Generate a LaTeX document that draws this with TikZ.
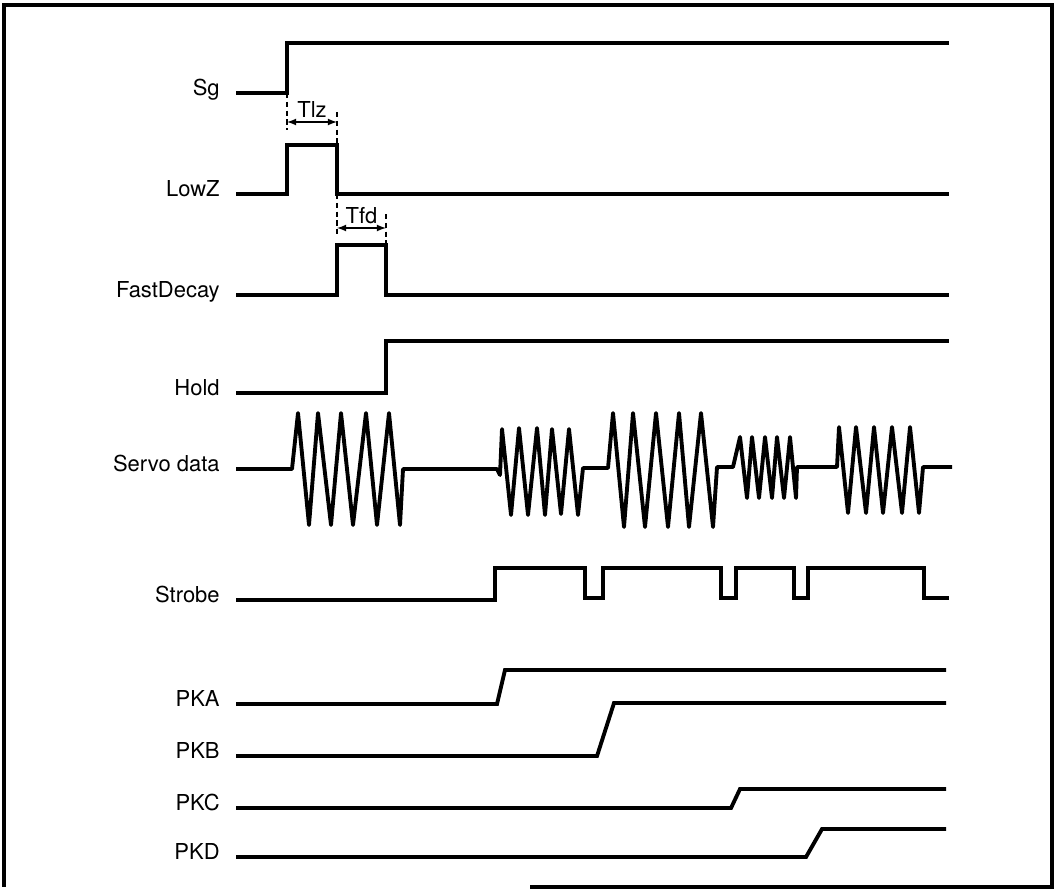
\documentclass[tikz,border=0pt]{standalone}
\usepackage{fontspec}
\setmainfont{TeX Gyre Heros}
\usepackage{tikz}
\usetikzlibrary{arrows}

\begin{document}
\begin{tikzpicture}[x=0.2mm,y=-0.2mm,
        sig/.style={line width=2.2pt,line join=miter},
        wave/.style={line width=2.2pt,line join=round},
        dim/.style={line width=0.8pt,latex-latex},
        ext/.style={line width=0.8pt,dash pattern=on 3pt off 2pt},
        lbl/.style={anchor=base east,inner sep=0pt,font=\fontsize{12.5}{15}\selectfont},
        tlbl/.style={above,inner sep=2pt,font=\fontsize{12.5}{15}\selectfont}]
            \useasboundingbox (0,0) rectangle (1057,890);
            % Frame:
            \draw[line width=2pt] (530,887) -- (1052,887) -- (1052,5) -- (4,5) -- (4,887);
            % signal names
            \foreach \nm/\txt/\y in {sg/Sg/95, lowz/LowZ/196, fastdecay/FastDecay/297, hold/Hold/395,
                    servo/Servo data/471, strobe/Strobe/602, pka/PKA/706, pkb/PKB/758, pkc/PKC/810, pkd/PKD/859}
                \node[lbl] (\nm) at (220,\y) {\txt};

            % Sg, LowZ, FastDecay, Hold
            \draw[sig] (236,93) -- (287,93) -- (287,43) -- (949,43);
            \draw[sig] (236,194) -- (287,194) -- (287,145) -- (337,145) -- (337,194) -- (949,194);
            \draw[sig] (236,295) -- (337,295) -- (337,245) -- (386,245) -- (386,295) -- (949,295);
            \draw[sig] (236,393) -- (386,393) -- (386,341) -- (949,341);

            %timing marks
            \coordinate (tlzA) at (287,122);
            \coordinate (tlzB) at (337,122);
            \coordinate (tfdA) at (337,228);
            \coordinate (tfdB) at (386,228);
            \draw[ext] (287,93) -- (287,130);
            \draw[ext] (337,112) -- (337,145);
            \draw[dim] (tlzA) -- node[tlbl] (tlz) {Tlz} (tlzB);
            \draw[ext] (337,194) -- (337,236);
            \draw[ext] (386,214) -- (386,245);
            \draw[dim] (tfdA) -- node[tlbl] (tfd) {Tfd} (tfdB);

            % Servo data
            \draw[wave] (236,469) -- (292,469) -- (298,413) -- (309,525) -- (318,413) -- (331,525) -- (341,413)
                -- (353,525) -- (366,413) -- (377,525) -- (389,413) -- (400,525) -- (403,469) -- (497,469)
                -- (500,475) -- (502,429) -- (511,515) -- (519,428) -- (528,515) -- (537,428) -- (545,515)
                -- (552,429) -- (561,514) -- (569,429) -- (578,515) -- (583,468) -- (608,468)
                -- (613,413) -- (624,527) -- (633,413) -- (645,527) -- (656,413) -- (668,527) -- (679,413)
                -- (689,527) -- (701,413) -- (713,527) -- (717,467) -- (733,467)
                -- (740,437) -- (747,498) -- (752,437) -- (759,498) -- (765,437) -- (772,498) -- (777,437)
                -- (784,498) -- (790,437) -- (796,498) -- (797,467) -- (837,467)
                -- (839,427) -- (848,513) -- (856,427) -- (866,513) -- (874,427) -- (883,513) -- (892,427)
                -- (902,513) -- (910,427) -- (919,513) -- (923,467) -- (952,467);

            % Strobe
            \draw[sig] (236,600) -- (495,600) -- (495,568) -- (585,568) -- (585,598) -- (603,598) -- (603,568)
                -- (721,568) -- (721,598) -- (736,598) -- (736,568) -- (794,568) -- (794,598) -- (808,598)
                -- (808,568) -- (924,568) -- (924,598) -- (949,598);

            % PKA..PKD
            \draw[sig] (236,704) -- (497,704) -- (505,670) -- (946,670);
            \draw[sig] (236,756) -- (597,756) -- (614,703) -- (946,703);
            \draw[sig] (236,808) -- (731,808) -- (740,789) -- (946,789);
            \draw[sig] (236,857) -- (806,857) -- (822,829) -- (946,829);
        \end{tikzpicture}
\end{document}
